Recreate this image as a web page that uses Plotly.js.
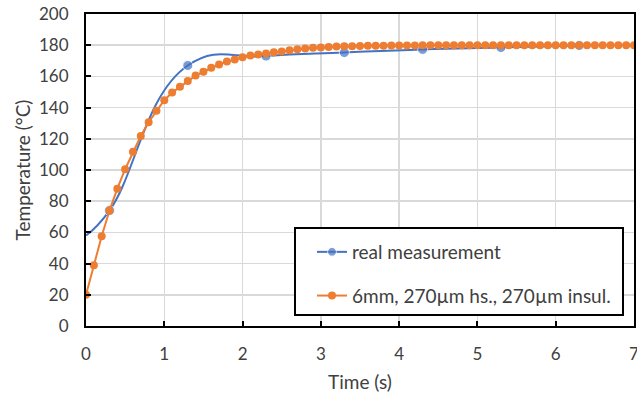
<!DOCTYPE html>
<html><head><meta charset="utf-8">
<script src="https://cdn.plot.ly/plotly-3.0.1.min.js"></script>
<style>html,body{margin:0;padding:0;background:#fff}#chart{width:637px;height:397px}</style>
</head><body><div id="chart"></div>
<script>
var measTime = [0, 0.3, 1.3, 2.3, 3.3, 4.3, 5.3, 6.3];
var measTemp = [58, 74, 167, 173, 175.3, 177.3, 178.5, 179.8];
var simTime = [0,0.1,0.2,0.3,0.4,0.5,0.6,0.7,0.8,0.9,1.0,1.1,1.2,1.3,1.4,1.5,1.6,1.7,1.8,1.9,2.0,2.1,2.2,2.3,2.4,2.5,2.6,2.7,2.8,2.9,3.0,3.1,3.2,3.3,3.4,3.5,3.6,3.7,3.8,3.9,4.0,4.1,4.2,4.3,4.4,4.5,4.6,4.7,4.8,4.9,5.0,5.1,5.2,5.3,5.4,5.5,5.6,5.7,5.8,5.9,6.0,6.1,6.2,6.3,6.4,6.5,6.6,6.7,6.8,6.9,7.0];
var simTemp = [20,39,57.5,74,88,100.5,111.7,121.8,130.6,138,144.7,149.6,153.3,157,160.5,163,165.5,167.6,169.5,170.8,172.2,173.4,174.1,174.7,175.5,176,176.8,177.4,177.9,178.3,178.6,178.9,179.1,179.3,179.4,179.5,179.6,179.7,179.7,179.8,179.8,179.8,179.8,179.9,179.9,179.9,179.9,179.9,179.9,179.9,180,180,180,180,180,180,180,180,180,180,180,180,180,180,180,180,180,180,180,180,180];
var names = ["real measurement", "6mm, 270\u00b5m hs., 270\u00b5m insul."];
var xTicks = [0,1,2,3,4,5,6,7];
var yTicks = [0,20,40,60,80,100,120,140,160,180,200];

var font = "Lato, 'Open Sans', sans-serif";
var textColor = '#404040';
var measSizes = measTime.map(function(t, i){ return i === 0 ? 0 : 10; });

var traces = [
  {x: measTime, y: measTemp, name: names[0], type: 'scatter', mode: 'lines+markers',
   legendgroup: 'a',
   line: {color: '#4472C4', width: 2, shape: 'spline', smoothing: 1.3},
   marker: {color: '#4472C4', size: measSizes}},
  {x: simTime, y: simTemp, name: names[1], type: 'scatter', mode: 'lines+markers',
   legendgroup: 'b',
   line: {color: '#ED7D31', width: 2},
   marker: {color: '#ED7D31', size: 8}}
];

var layout = {
  width: 637, height: 397,
  margin: {l: 86, r: 3, t: 14, b: 71, pad: 0},
  paper_bgcolor: '#fff', plot_bgcolor: '#fff',
  font: {family: font, size: 17, color: textColor},
  showlegend: true,
  legend: {x: (312 - 86) / 548, y: (326 - 233) / 312, xanchor: 'left', yanchor: 'top',
    bgcolor: 'rgba(0,0,0,0)', borderwidth: 0,
    font: {family: font, size: 19, color: textColor},
    traceorder: 'grouped', tracegroupgap: 16},
  shapes: [{type: 'rect', xref: 'paper', yref: 'paper', layer: 'above',
    x0: (295 - 86) / 548, x1: (623 - 86) / 548,
    y0: (326 - 315) / 312, y1: (326 - 228) / 312,
    fillcolor: '#fff', line: {color: '#000', width: 2}}],
  xaxis: {range: [0, 7], tickvals: xTicks, ticktext: xTicks.map(String),
    showgrid: true, gridcolor: '#d9d9d9', gridwidth: 1.5,
    showline: true, linecolor: '#000', linewidth: 2, mirror: true,
    ticks: 'inside', ticklen: 5, tickcolor: '#000', tickwidth: 2,
    ticklabelstandoff: 12, ticklabeloverflow: 'allow', zeroline: false,
    tickfont: {family: font, size: 17, color: textColor},
    title: {text: 'Time (s)', font: {family: font, size: 19, color: textColor}, standoff: 12}},
  yaxis: {range: [0, 200], tickvals: yTicks, ticktext: yTicks.map(String),
    showgrid: true, gridcolor: '#d9d9d9', gridwidth: 1.5,
    showline: true, linecolor: '#000', linewidth: 2, mirror: true,
    ticks: 'inside', ticklen: 5, tickcolor: '#000', tickwidth: 2,
    ticklabelstandoff: 12, zeroline: false,
    tickfont: {family: font, size: 17, color: textColor},
    title: {text: 'Temperature (\u00b0C)', font: {family: font, size: 19, color: textColor}, standoff: 3}}
};

Plotly.newPlot('chart', traces, layout, {staticPlot: true, displayModeBar: false});
</script></body></html>
